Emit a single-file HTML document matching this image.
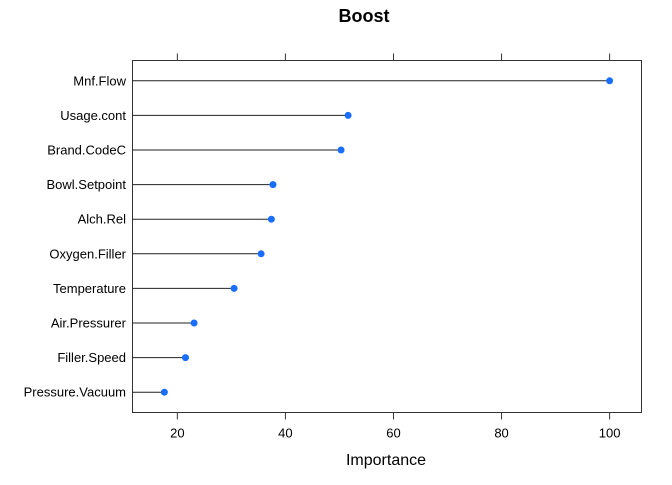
<!DOCTYPE html>
<html><head><meta charset="utf-8"><style>
body{margin:0;background:#fff;font-family:"Liberation Sans",Arial,sans-serif}
</style></head><body>
<svg id="chart" width="672" height="480" xmlns="http://www.w3.org/2000/svg" font-family="Liberation Sans, Arial, sans-serif">
<text x="364" y="22" text-anchor="middle" font-size="18" font-weight="bold">Boost</text>
<text x="386" y="465" text-anchor="middle" font-size="16">Importance</text>
<rect x="132.5" y="60.5" width="509" height="352" fill="none" stroke="#333" stroke-width="1"/>
<g id="marks"></g>
</svg>
<script>
const categories=["Mnf.Flow","Usage.cont","Brand.CodeC","Bowl.Setpoint","Alch.Rel","Oxygen.Filler","Temperature","Air.Pressurer","Filler.Speed","Pressure.Vacuum"];
const importance=[100,51.6,50.3,37.7,37.4,35.5,30.5,23.1,21.5,17.6];
const tickValues=[20,40,60,80,100];
const tickLabels=["20","40","60","80","100"];
const NS="http://www.w3.org/2000/svg";
const L=132.5,R=641.5,T=60.5,B=412.5;
const xmin=11.7,xmax=105.9;
function xs(v){return L+(v-xmin)/(xmax-xmin)*(R-L);}
function ys(i){const pad=20.3;const step=(B-T-2*pad)/(categories.length-1);return T+pad+step*i;}
const g=document.getElementById('marks');
function mk(tag,attrs){const e=document.createElementNS(NS,tag);for(const k in attrs)e.setAttribute(k,attrs[k]);g.appendChild(e);return e;}
tickValues.forEach((v,i)=>{
  const x=xs(v);
  let t=mk('line',{x1:x,x2:x,y1:B,y2:B+7,stroke:'#333'});
  
  
  let t2=mk('line',{x1:x,x2:x,y1:T,y2:T-7,stroke:'#333'});
  
  
  let lb=mk('text',{x:x,y:B+25,'text-anchor':'middle','font-size':13});
  lb.textContent=tickLabels[i];
  
  
});
categories.forEach((c,i)=>{
  const y=ys(i),x=xs(importance[i]);
  let ln=mk('line',{x1:L,x2:x,y1:y,y2:y,stroke:'#222','stroke-width':1});
  
  
  let d=mk('circle',{cx:x,cy:y,r:3.5,fill:'#1a6eff'});
  
  
  let lb=mk('text',{x:126,y:y+4.5,'text-anchor':'end','font-size':13});
  lb.textContent=c;
  
  
});
</script>
</body></html>
